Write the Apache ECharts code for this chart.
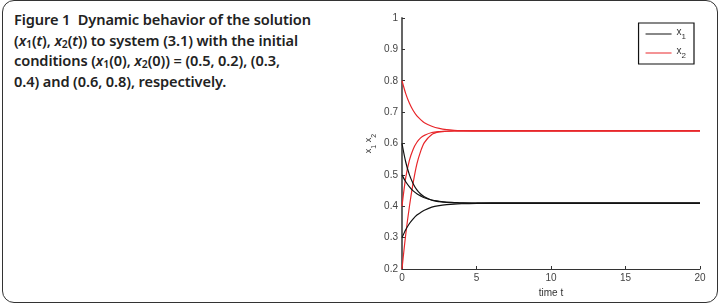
<!DOCTYPE html>
<html>
<head>
<meta charset="utf-8">
<script src="https://cdn.jsdelivr.net/npm/echarts@6/dist/echarts.min.js"></script>
<style>
  body { margin: 0; background: #fff; }
  #wrap { position: relative; width: 725px; height: 308px; overflow: hidden; }
  #frame {
    position: absolute; left: 2px; top: 0px; width: 714px; height: 301px;
    border: 1.5px solid #333; border-radius: 12px;
  }
  #caption {
    position: absolute; left: 14px; top: 9px; white-space: nowrap;
    font-family: "Noto Sans", "Open Sans", sans-serif; font-weight: 600;
    font-size: 14.6px; line-height: 20.5px; color: #222; letter-spacing: -0.1px;
  }
  #caption sub { font-size: 10.5px; vertical-align: -2px; line-height: 0; }
  #chart { position: absolute; left: 0; top: 0; width: 725px; height: 308px; }
</style>
</head>
<body>
<div id="wrap">
  <div id="frame"></div>
  <div id="caption">Figure 1&nbsp; Dynamic behavior of the solution<br>(<i>x</i><sub>1</sub>(<i>t</i>), <i>x</i><sub>2</sub>(<i>t</i>)) to system (3.1) with the initial<br>conditions (<i>x</i><sub>1</sub>(0), <i>x</i><sub>2</sub>(0)) = (0.5, 0.2), (0.3,<br>0.4) and (0.6, 0.8), respectively.</div>
  <div id="chart"></div>
</div>
<script>
// time samples
const times = [0, 0.25, 0.5, 0.75, 1, 1.25, 1.5, 2, 2.5, 3, 3.5, 4, 5, 6, 8, 10, 15, 20]

// x1 trajectories (black)
const x1From06 = [0.6, 0.541, 0.500, 0.472, 0.452, 0.439, 0.430, 0.419, 0.4145, 0.412, 0.411, 0.410, 0.410, 0.410, 0.410, 0.410, 0.410, 0.410]
const x1From05 = [0.5, 0.478, 0.462, 0.449, 0.440, 0.433, 0.427, 0.420, 0.416, 0.413, 0.412, 0.411, 0.410, 0.410, 0.410, 0.410, 0.410, 0.410]
const x1From03 = [0.3, 0.325, 0.345, 0.360, 0.372, 0.380, 0.387, 0.397, 0.402, 0.405, 0.407, 0.408, 0.409, 0.410, 0.410, 0.410, 0.410, 0.410]

// x2 trajectories (red)
const x2From08 = [0.8, 0.759, 0.728, 0.705, 0.688, 0.676, 0.666, 0.655, 0.648, 0.644, 0.642, 0.641, 0.640, 0.640, 0.640, 0.640, 0.640, 0.640]
const x2From04 = [0.4, 0.491, 0.547, 0.582, 0.604, 0.618, 0.626, 0.635, 0.638, 0.639, 0.640, 0.640, 0.640, 0.640, 0.640, 0.640, 0.640, 0.640]
const x2From02 = [0.2, 0.310, 0.400, 0.475, 0.535, 0.575, 0.603, 0.629, 0.637, 0.639, 0.640, 0.640, 0.640, 0.640, 0.640, 0.640, 0.640, 0.640]

const xTicks = [0, 5, 10, 15, 20]

const black = '#111111'
const red = '#e8262a'

function pairs (vals) {
  return times.map((t, i) => [t, vals[i]])
}

function makeLine (name, vals, color) {
  return {
    name: name,
    type: 'line',
    data: pairs(vals),
    smooth: 0.3,
    symbol: 'none',
    lineStyle: { color: color, width: 1.2 },
    itemStyle: { color: color },
    animation: false
  }
}

const chart = echarts.init(document.getElementById('chart'))
chart.setOption({
  backgroundColor: 'transparent',
  animation: false,
  grid: { left: 402, top: 18, right: 25, bottom: 39 },
  legend: {
    data: ['x1', 'x2'],
    orient: 'vertical',
    right: 31,
    top: 23,
    icon: 'rect',
    itemWidth: 26,
    itemHeight: 1,
    itemGap: 5,
    padding: [4, 8, 4, 7],
    borderColor: '#111',
    borderWidth: 1.2,
    backgroundColor: '#fff',
    selectedMode: false,
    formatter: function (n) { return '{a|x}{s|' + n.slice(1) + '}' },
    textStyle: {
      rich: {
        a: { fontFamily: 'Liberation Sans', fontSize: 10, color: '#333', lineHeight: 14, verticalAlign: 'top' },
        s: { fontFamily: 'Liberation Sans', fontSize: 8, color: '#333', lineHeight: 9, verticalAlign: 'bottom' }
      }
    }
  },
  xAxis: {
    type: 'value',
    min: 0,
    max: 20,
    interval: 5,
    name: 'time t',
    nameLocation: 'middle',
    nameGap: 16,
    nameTextStyle: { fontFamily: 'Liberation Sans', fontSize: 10, color: '#333' },
    axisLine: { lineStyle: { color: '#333', width: 1 } },
    axisTick: { inside: true, length: 3, lineStyle: { color: '#333' } },
    axisLabel: {
      fontFamily: 'Liberation Sans', fontSize: 10, color: '#444', margin: 4,
      customValues: xTicks
    },
    splitLine: { show: false }
  },
  yAxis: {
    type: 'value',
    min: 0.2,
    max: 1,
    interval: 0.1,
    name: '{a|x}{s|1}{a| x}{s|2}',
    nameLocation: 'middle',
    nameRotate: 90,
    nameGap: 24,
    nameTextStyle: {
      rich: {
        a: { fontFamily: 'Liberation Sans', fontSize: 9, color: '#333', lineHeight: 14, verticalAlign: 'top' },
        s: { fontFamily: 'Liberation Sans', fontSize: 7, color: '#333', lineHeight: 8, verticalAlign: 'bottom' }
      }
    },
    axisLine: { show: true, lineStyle: { color: '#555', width: 1.8 } },
    axisTick: { show: true, inside: true, length: 3, lineStyle: { color: '#333' } },
    axisLabel: {
      fontFamily: 'Liberation Sans', fontSize: 10, color: '#444', margin: 4,
      formatter: function (v) { return String(+v.toFixed(1)) }
    },
    splitLine: { show: false }
  },
  series: [
    makeLine('x2', x2From08, red),
    makeLine('x2', x2From04, red),
    makeLine('x2', x2From02, red),
    makeLine('x1', x1From06, black),
    makeLine('x1', x1From05, black),
    makeLine('x1', x1From03, black)
  ]
})
</script>
</body>
</html>
